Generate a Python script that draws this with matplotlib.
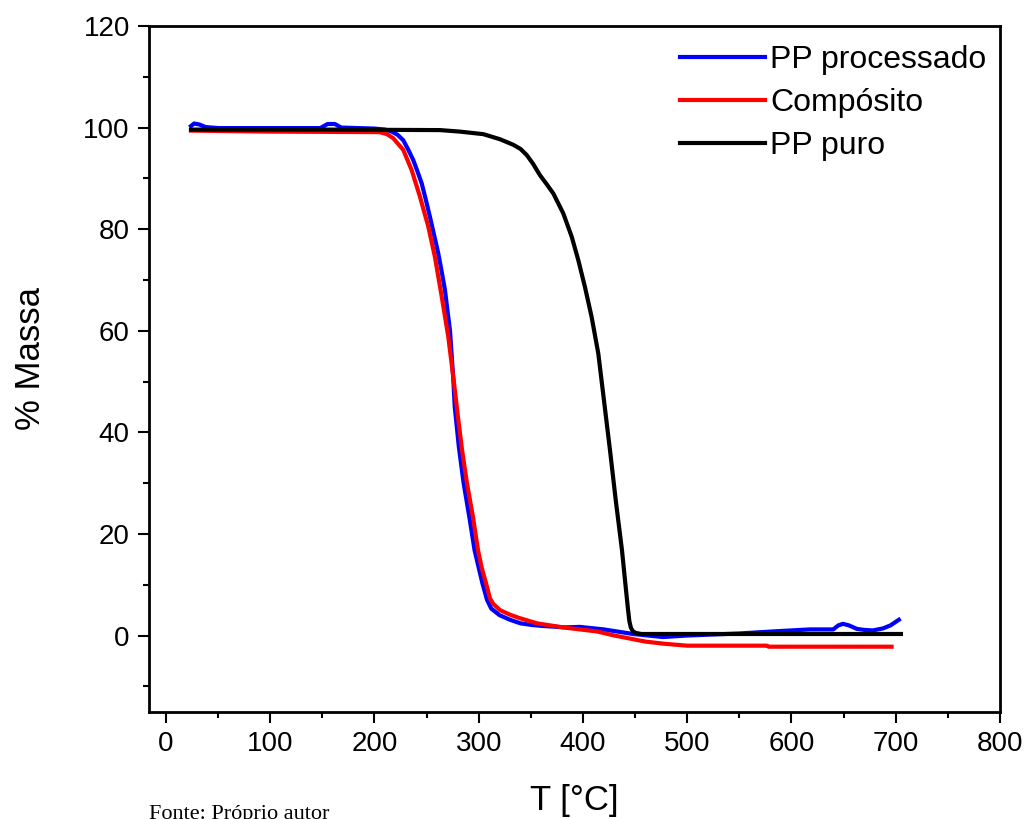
import matplotlib.pyplot as plt
from matplotlib.ticker import MultipleLocator

# TGA curves (T in °C, mass in %)
t_processado = [24, 27, 32, 38, 50, 148, 155, 162, 168, 200, 210, 216.5, 222, 227.6, 232,
                237.2, 241, 245.3, 249, 253.2, 257, 261.2, 264.5, 267.6, 270, 272.4, 275.6,
                277, 281, 285.5, 291, 296, 303.5, 308, 312, 320, 330, 340, 350, 360, 383,
                397, 420, 448, 476.7, 500, 550, 586, 617.7, 640, 645, 649.4, 655, 662.8,
                670, 678, 687.8, 695, 703]
m_processado = [100.3, 100.8, 100.6, 100.1, 99.9, 99.9, 100.7, 100.7, 100.0, 99.8, 99.6, 99.2,
                98.6, 97.5, 95.8, 93.6, 91.5, 89.0, 86.0, 82.4, 79.0, 75.2, 71.6, 68.0, 64.0,
                60.1, 50.5, 45.0, 37.0, 30.0, 23.3, 16.8, 10.3, 7.0, 5.3, 4.0, 3.1, 2.4, 2.1,
                1.9, 1.6, 1.7, 1.2, 0.3, -0.3, 0.0, 0.4, 0.85, 1.2, 1.2, 2.0, 2.3, 2.0, 1.3,
                1.1, 1.0, 1.4, 2.0, 3.1]

t_composito = [24, 100, 205, 212, 218, 227.6, 235.7, 243.6, 251.6, 258, 264.5, 270.8, 276.3,
               280.1, 284, 288.7, 294.5, 299.3, 303, 307, 310.8, 314, 320.4, 330, 339.6, 355.9,
               380.8, 397, 413.4, 430, 445, 460, 477, 499.8, 576.5, 578, 696]
m_composito = [99.4, 99.2, 99.1, 98.7, 97.9, 95.6, 91.6, 86.4, 80.5, 74.5, 66.7, 58.8, 49.7,
               43.0, 36.5, 30.0, 23.3, 16.8, 13.2, 10.3, 7.3, 6.2, 5.0, 4.1, 3.4, 2.4, 1.6,
               1.2, 0.8, 0.0, -0.6, -1.2, -1.6, -2.0, -2.0, -2.2, -2.2]

t_puro = [24, 150, 262.8, 282, 304.4, 320.4, 333.2, 340, 346, 352, 358.8, 365, 371.6, 381.1,
          389.2, 395.5, 401.9, 408.3, 414.7, 420, 425.9, 431.5, 437.4, 440.5, 443, 444.5, 446,
          448, 451, 456, 705]
m_puro = [99.6, 99.6, 99.5, 99.2, 98.7, 97.7, 96.6, 95.8, 94.6, 92.9, 90.6, 88.9, 87.0, 83.1,
          78.5, 73.9, 68.6, 62.7, 55.5, 46.5, 36.5, 26.5, 16.8, 10.5, 5.5, 2.8, 1.5, 0.8, 0.5,
          0.3, 0.3]

plt.rcParams['font.family'] = ['Liberation Sans', 'DejaVu Sans']

fig = plt.figure(figsize=(10.29, 8.19), dpi=100)
ax = fig.add_axes([0.1451, 0.1310, 0.8267, 0.8373])

ax.plot(t_processado, m_processado, color='#0000ff', lw=3, label='PP processado')
ax.plot(t_composito, m_composito, color='#ff0000', lw=3, label='Compósito')
ax.plot(t_puro, m_puro, color='black', lw=3, label='PP puro')

ax.set_xlim(-16, 800)
ax.set_ylim(-15, 120)
ax.xaxis.set_major_locator(MultipleLocator(100))
ax.xaxis.set_minor_locator(MultipleLocator(50))
ax.yaxis.set_major_locator(MultipleLocator(20))
ax.yaxis.set_minor_locator(MultipleLocator(10))
ax.tick_params(which='major', direction='out', length=8, width=1.5, labelsize=20, pad=6)
ax.tick_params(which='minor', direction='out', length=4.5, width=1.5)
for s in ax.spines.values():
    s.set_linewidth(2)

ax.set_xlabel('T [°C]', fontsize=25)
ax.set_ylabel('% Massa', fontsize=25)
ax.xaxis.set_label_coords(0.5, -0.106)
ax.yaxis.set_label_coords(-0.120, 0.515)

ax.legend(loc='upper left', frameon=False, fontsize=23, handlelength=2.66,
          handletextpad=0.16, labelspacing=0.41, borderpad=0.4, borderaxespad=0,
          bbox_to_anchor=(0.6086, 0.991))

fig.text(0.1451, 1 - 805 / 819, 'Fonte: Próprio autor', family='Liberation Serif',
         fontsize=16, va='top', ha='left')

fig.savefig('out.png', dpi=100)
